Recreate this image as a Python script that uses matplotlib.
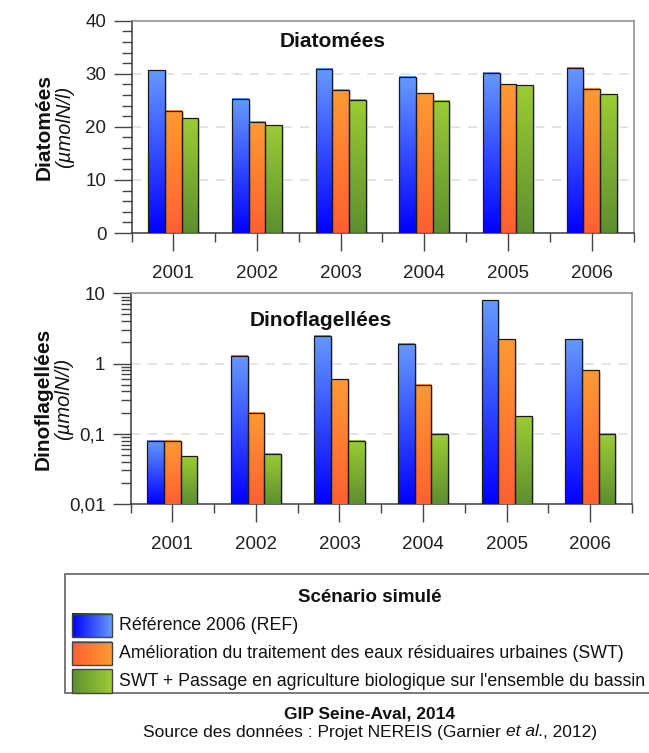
import matplotlib
matplotlib.use('Agg')
import matplotlib.pyplot as plt
import numpy as np
from matplotlib.colors import LinearSegmentedColormap
from matplotlib.patches import Rectangle
from matplotlib.ticker import FixedLocator, FuncFormatter, LogLocator, MultipleLocator, NullFormatter

plt.rcParams['font.family'] = ['Liberation Sans', 'DejaVu Sans']

# ---------------- data ----------------
years = ['2001', '2002', '2003', '2004', '2005', '2006']
scenarios = ['Référence 2006 (REF)',
             'Amélioration du traitement des eaux résiduaires urbaines (SWT)',
             "SWT + Passage en agriculture biologique sur l'ensemble du bassin"]
diatomees_ref = [30.7, 25.3, 30.9, 29.4, 30.2, 31.1]
diatomees_swt = [23.0, 21.0, 27.0, 26.3, 28.0, 27.2]
diatomees_bio = [21.6, 20.3, 25.1, 24.9, 27.8, 26.1]
dino_ref = [0.080, 1.30, 2.50, 1.90, 8.0, 2.20]
dino_swt = [0.080, 0.20, 0.60, 0.50, 2.20, 0.80]
dino_bio = [0.048, 0.052, 0.080, 0.100, 0.177, 0.100]

# gradient colours (bottom/dark -> top/light)
grad_colors = [('#0000ff', '#6699ff'),
               ('#ff6030', '#ff9a33'),
               ('#5e8f2f', '#9ccc33')]
cmaps = [LinearSegmentedColormap.from_list('g%d' % i, c) for i, c in enumerate(grad_colors)]

W, H = 649, 753
fig = plt.figure(figsize=(W / 100, H / 100), dpi=100)


def fr(left, top, right, bottom):
    return [left / W, 1 - bottom / H, (right - left) / W, (bottom - top) / H]


spine_dark = '#3a3a3a'
spine_light = '#8a8a8a'
tick_color = '#222222'


def draw_panel(ax, series, log, ylim, title, ylab_bold, ylab_it, title_xy):
    x = np.arange(len(years))
    width = 0.2
    ax.set_xlim(-0.5, len(years) - 0.5)
    if log:
        ax.set_yscale('log')
    ax.set_ylim(*ylim)
    inv = ax.transAxes.inverted()
    for i, vals in enumerate(series):
        bars = ax.bar(x + (i - 1) * width, vals, width, facecolor='none',
                      edgecolor='#1a1a1a', linewidth=0.9, zorder=4)
        for b in bars:
            x0 = b.get_x()
            x1 = x0 + b.get_width()
            y1 = b.get_y() + b.get_height()
            p0 = inv.transform(ax.transData.transform((x0, ylim[0])))
            p1 = inv.transform(ax.transData.transform((x1, y1)))
            grad = np.linspace(0, 1, 256).reshape(-1, 1)
            ax.imshow(grad, cmap=cmaps[i], extent=(p0[0], p1[0], p0[1], p1[1]),
                      origin='lower', aspect='auto', transform=ax.transAxes,
                      zorder=3, interpolation='bilinear')
            # soft shadow to the right
            ax.add_patch(Rectangle((p1[0], p0[1]), 0.004, p1[1] - p0[1] - 0.006,
                                   transform=ax.transAxes, facecolor='#d8d8d8',
                                   edgecolor='none', zorder=2))
    ax.set_xlim(-0.5, len(years) - 0.5)
    ax.set_ylim(*ylim)

    # x ticks
    ax.xaxis.set_major_locator(FixedLocator(x))
    ax.set_xticklabels(years)
    ax.xaxis.set_minor_locator(FixedLocator(np.arange(-0.5, len(years), 1.0)))
    ax.tick_params(axis='x', which='major', length=13, width=1.0, color='#444444',
                   pad=10, labelsize=13.5, labelcolor=tick_color, direction='out')
    ax.tick_params(axis='x', which='minor', length=6.5, width=1.0, color='#444444',
                   direction='out')
    ax.tick_params(axis='y', which='major', length=13, width=1.0, color='#444444',
                   pad=5, labelsize=13.5, labelcolor=tick_color, direction='out')
    ax.tick_params(axis='y', which='minor', length=7, width=1.0, color='#444444',
                   direction='out')

    for s in ['left', 'bottom']:
        ax.spines[s].set_color(spine_dark)
        ax.spines[s].set_linewidth(1.1)
    for s in ['top', 'right']:
        ax.spines[s].set_color(spine_light)
        ax.spines[s].set_linewidth(1.1)

    ax.text(title_xy[0], title_xy[1], title, transform=ax.transAxes, ha='center',
            va='center', fontsize=15, fontweight='bold', color='#111111')
    ax.text(-0.175, 0.5, ylab_bold, transform=ax.transAxes, rotation=90, ha='center',
            va='center', fontsize=15, fontweight='bold', color='#111111')
    ax.text(-0.133, 0.5, ylab_it, transform=ax.transAxes, rotation=90, ha='center',
            va='center', fontsize=14.5, fontstyle='italic', color='#111111')


# ---------------- top panel ----------------
ax1 = fig.add_axes(fr(131.5, 20.7, 633.5, 233))
draw_panel(ax1, [diatomees_ref, diatomees_swt, diatomees_bio], False, (0, 40),
           'Diatomées', 'Diatomées', '(µmolN/l)', (0.40, 0.90))
ax1.yaxis.set_major_locator(MultipleLocator(10))
ax1.yaxis.set_minor_locator(MultipleLocator(2))
for v in [10, 20, 30]:
    ax1.axhline(v, color='#dcdcdc', lw=1.1, ls=(0, (6, 5)), zorder=1)

# ---------------- bottom panel ----------------
ax2 = fig.add_axes(fr(130.5, 293.3, 632, 504))
draw_panel(ax2, [dino_ref, dino_swt, dino_bio], True, (0.01, 10),
           'Dinoflagellées', 'Dinoflagellées', '(µmolN/l)', (0.38, 0.87))
ax2.yaxis.set_major_locator(FixedLocator([0.01, 0.1, 1, 10]))
ax2.yaxis.set_major_formatter(FuncFormatter(lambda v, p: ('%g' % v).replace('.', ',')))
ax2.yaxis.set_minor_locator(LogLocator(base=10, subs=np.arange(2, 10)))
ax2.yaxis.set_minor_formatter(NullFormatter())
for v in [0.1, 1]:
    ax2.axhline(v, color='#dcdcdc', lw=1.1, ls=(0, (6, 5)), zorder=1)

# ---------------- legend ----------------
lax = fig.add_axes([0, 0, 1, 1])
lax.set_xlim(0, W)
lax.set_ylim(H, 0)
lax.axis('off')
lax.add_patch(Rectangle((64.5, 574.3), 620, 119, facecolor='white',
                        edgecolor='#6e6e6e', linewidth=1.3, zorder=1))
lax.text(370, 597, 'Scénario simulé', ha='center', va='center', fontsize=13.5,
         fontweight='bold', color='#111111')
grad_h = np.linspace(0, 1, 256).reshape(1, -1)
leg_tops = [614, 641.5, 669.3]
for i, lab in enumerate(scenarios):
    top = leg_tops[i]
    lax.imshow(grad_h, cmap=cmaps[i], extent=(72, 112, top + 23.3, top),
               aspect='auto', zorder=2, interpolation='bilinear')
    lax.add_patch(Rectangle((72, top), 40, 23.3, facecolor='none',
                            edgecolor='#444444', linewidth=1.0, zorder=3))
    lax.text(119, top + 11.8, lab, ha='left', va='center', fontsize=12.8,
             color='#111111')
lax.set_xlim(0, W)
lax.set_ylim(H, 0)

lax.text(370, 714, 'GIP Seine-Aval, 2014', ha='center', va='center', fontsize=12.5,
         fontweight='bold', color='#111111')

# source line with italic "et al." : measure pieces and lay them out centered
pieces = [('Source des données : Projet NEREIS (Garnier ', 'normal'),
          ('et al.', 'italic'),
          (', 2012)', 'normal')]
renderer = fig.canvas.get_renderer()
texts = []
for s, st in pieces:
    t = lax.text(0, 732, s, ha='left', va='center', fontsize=12.5, fontstyle=st,
                 color='#111111')
    texts.append(t)
widths = []
for t in texts:
    bb = t.get_window_extent(renderer=renderer)
    widths.append(bb.width)
total = sum(widths)
xpix = 370 - total / 2
for t, w in zip(texts, widths):
    t.set_x(xpix)
    xpix += w

fig.savefig('out.png', dpi=100)
